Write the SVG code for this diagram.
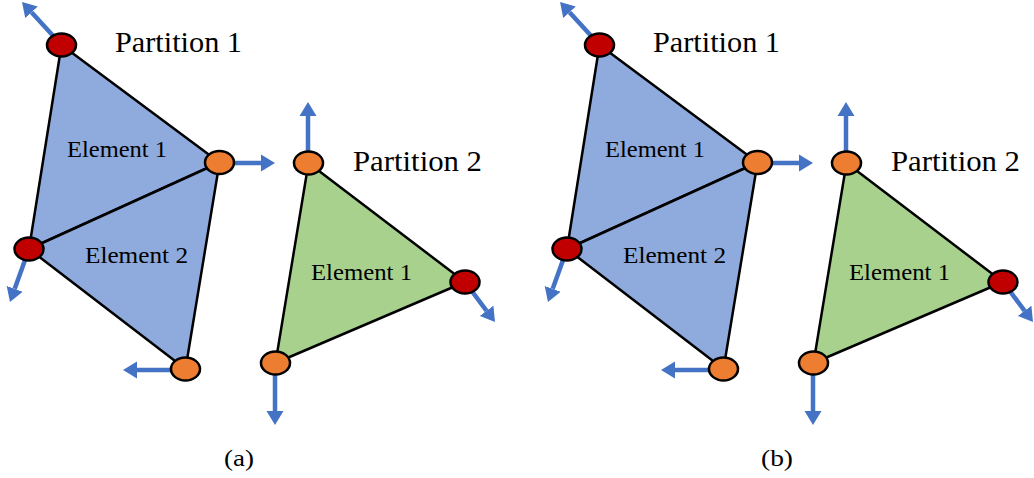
<svg xmlns="http://www.w3.org/2000/svg" width="1034" height="478" viewBox="0 0 1034 478">
<style>
.tri{stroke:#000;stroke-width:2.5;stroke-linejoin:round}
.blue{fill:#8FAADC}
.green{fill:#A9D18E}
.nd{stroke:#000;stroke-width:2.5}
.red{fill:#C00000}
.org{fill:#ED7D31}
.arr{stroke:#4472C4;stroke-width:4.5;fill:none;marker-end:url(#ah)}
.lbl{font-family:"Liberation Serif","Times New Roman",serif;fill:#000}
.part{font-size:30px}
.elem{font-size:23px}
.cap{font-size:24px}
</style>
<defs>
<marker id="ah" markerUnits="userSpaceOnUse" markerWidth="16" markerHeight="18" refX="0" refY="8.5" orient="auto" viewBox="0 0 16 17">
<path d="M0,0 L14,8.5 L0,17 z" fill="#4472C4"/>
</marker>
</defs>
<g id="panel-a">
<g id="a-elements">
<polygon id="a-p1-e1" class="tri blue" points="61.5,45 219.5,162.5 29,249"/>
<polygon id="a-p1-e2" class="tri blue" points="29,249 219.5,162.5 185.5,369"/>
<polygon id="a-p2-e1" class="tri green" points="308.5,163 465,282 275.5,363"/>
</g>
<g id="a-connectors">
<line class="arr" x1="61.5" y1="45" x2="31.5" y2="12.3"/>
<line class="arr" x1="219.5" y1="163" x2="261" y2="163"/>
<line class="arr" x1="29" y1="249" x2="14.7" y2="288.8"/>
<line class="arr" x1="185.5" y1="370" x2="137" y2="370"/>
<line class="arr" x1="308" y1="163" x2="308" y2="116"/>
<line class="arr" x1="465" y1="282" x2="486.6" y2="310.8"/>
<line class="arr" x1="275" y1="363" x2="275" y2="411"/>
</g>
<g id="a-n1"><ellipse class="nd red" cx="61.5" cy="45" rx="14.5" ry="11.5"/></g>
<g id="a-n2"><ellipse class="nd org" cx="219.5" cy="162.5" rx="14.5" ry="11.5"/></g>
<g id="a-n3"><ellipse class="nd red" cx="29" cy="249" rx="14.5" ry="11.5"/></g>
<g id="a-n4"><ellipse class="nd org" cx="185.5" cy="369" rx="14.5" ry="11.5"/></g>
<g id="a-n5"><ellipse class="nd org" cx="308.5" cy="163" rx="14.5" ry="11.5"/></g>
<g id="a-n6"><ellipse class="nd red" cx="465" cy="282" rx="14.5" ry="11.5"/></g>
<g id="a-n7"><ellipse class="nd org" cx="275.5" cy="363" rx="14.5" ry="11.5"/></g>
<g id="a-labels">
<text class="lbl part" x="115" y="52" textLength="127" lengthAdjust="spacingAndGlyphs">Partition 1</text>
<text class="lbl part" x="353" y="171" textLength="129" lengthAdjust="spacingAndGlyphs">Partition 2</text>
<text class="lbl elem" x="67" y="157" textLength="100" lengthAdjust="spacingAndGlyphs">Element 1</text>
<text class="lbl elem" x="85" y="263" textLength="103" lengthAdjust="spacingAndGlyphs">Element 2</text>
<text class="lbl elem" x="311" y="280" textLength="101" lengthAdjust="spacingAndGlyphs">Element 1</text>
<text class="lbl cap" x="224" y="466" textLength="30" lengthAdjust="spacingAndGlyphs">(a)</text>
</g>
</g>
<g id="panel-b" transform="translate(538,0)">
<g id="b-elements">
<polygon id="b-p1-e1" class="tri blue" points="61.5,45 219.5,162.5 29,249"/>
<polygon id="b-p1-e2" class="tri blue" points="29,249 219.5,162.5 185.5,369"/>
<polygon id="b-p2-e1" class="tri green" points="308.5,163 465,282 275.5,363"/>
</g>
<g id="b-connectors">
<line class="arr" x1="61.5" y1="45" x2="31.5" y2="12.3"/>
<line class="arr" x1="219.5" y1="163" x2="261" y2="163"/>
<line class="arr" x1="29" y1="249" x2="14.7" y2="288.8"/>
<line class="arr" x1="185.5" y1="370" x2="137" y2="370"/>
<line class="arr" x1="308" y1="163" x2="308" y2="116"/>
<line class="arr" x1="465" y1="282" x2="486.6" y2="310.8"/>
<line class="arr" x1="275" y1="363" x2="275" y2="411"/>
</g>
<g id="b-n1"><ellipse class="nd red" cx="61.5" cy="45" rx="14.5" ry="11.5"/></g>
<g id="b-n2"><ellipse class="nd org" cx="219.5" cy="162.5" rx="14.5" ry="11.5"/></g>
<g id="b-n3"><ellipse class="nd red" cx="29" cy="249" rx="14.5" ry="11.5"/></g>
<g id="b-n4"><ellipse class="nd org" cx="185.5" cy="369" rx="14.5" ry="11.5"/></g>
<g id="b-n5"><ellipse class="nd org" cx="308.5" cy="163" rx="14.5" ry="11.5"/></g>
<g id="b-n6"><ellipse class="nd red" cx="465" cy="282" rx="14.5" ry="11.5"/></g>
<g id="b-n7"><ellipse class="nd org" cx="275.5" cy="363" rx="14.5" ry="11.5"/></g>
<g id="b-labels">
<text class="lbl part" x="115" y="52" textLength="127" lengthAdjust="spacingAndGlyphs">Partition 1</text>
<text class="lbl part" x="353" y="171" textLength="129" lengthAdjust="spacingAndGlyphs">Partition 2</text>
<text class="lbl elem" x="67" y="157" textLength="100" lengthAdjust="spacingAndGlyphs">Element 1</text>
<text class="lbl elem" x="85" y="263" textLength="103" lengthAdjust="spacingAndGlyphs">Element 2</text>
<text class="lbl elem" x="311" y="280" textLength="101" lengthAdjust="spacingAndGlyphs">Element 1</text>
<text class="lbl cap" x="223" y="466" textLength="32" lengthAdjust="spacingAndGlyphs">(b)</text>
</g>
</g>
</svg>
